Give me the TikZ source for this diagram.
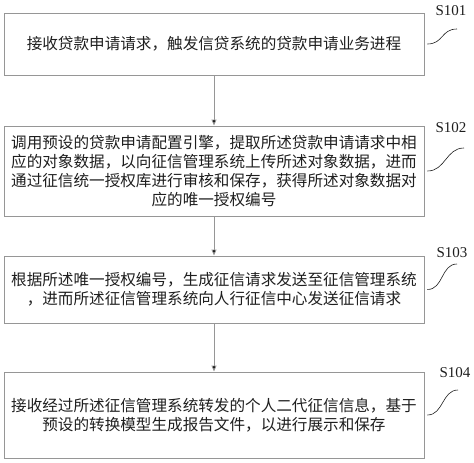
\documentclass[tikz,border=0pt]{standalone}
\usepackage{fontspec}
\setmainfont{Liberation Serif}
\newfontfamily\cjk{Noto Sans CJK SC}
\usetikzlibrary{arrows.meta}
\definecolor{boxLine}{RGB}{150,150,150}
\definecolor{textDark}{RGB}{30,30,30}
\tikzset{
  flow style/.style={
    x=1pt, y=-1pt,
  },
  step box/.style={
    draw=boxLine,
    line width=0.9pt,
    minimum width=420pt,
    minimum height=#1,
    inner sep=0pt,
    text width=412pt,
    align=center,
    text=textDark,
    font=\cjk\fontsize{15.6}{19}\selectfont,
  },
  step label/.style={
    text=textDark,
    inner sep=0pt,
    font=\fontsize{15}{17}\selectfont,
  },
  flow arrow/.style={
    draw=boxLine,
    line width=0.9pt,
    -{Triangle[length=6pt,width=5pt,fill=black]},
  },
  label wave/.style={
    draw=textDark,
    line width=0.6pt,
  },
}

\begin{document}
\begin{tikzpicture}[flow style]
  \useasboundingbox (0,0) rectangle (474,463);
  % steps
  \node[step box=62pt] (s1) at (214,44)
    {接收贷款申请请求，触发信贷系统的贷款申请业务进程};
  \node[step box=90pt] (s2) at (214,171)
    {调用预设的贷款申请配置引擎，提取所述贷款申请请求中相\\
     应的对象数据，以向征信管理系统上传所述对象数据，进而\\
     通过征信统一授权库进行审核和保存，获得所述对象数据对\\
     应的唯一授权编号};
  \node[step box=67pt] (s3) at (214,289.5)
    {根据所述唯一授权编号，生成征信请求发送至征信管理系统\\
     ，进而所述征信管理系统向人行征信中心发送征信请求};
  \node[step box=86pt] (s4) at (214,415)
    {接收经过所述征信管理系统转发的个人二代征信信息，基于\\
     预设的转换模型生成报告文件，以进行展示和保存};
  % labels
  \node[step label] (l1) at (451,11) {S101};
  \node[step label] (l2) at (451,128) {S102};
  \node[step label] (l3) at (452,253) {S103};
  \node[step label] (l4) at (455,373) {S104};
  \coordinate (w1) at (457,29);
  \coordinate (w2) at (464,148);
  \coordinate (w3) at (457,264);
  \coordinate (w4) at (458,390);
  % arrows
  \draw[flow arrow] (s1) -- (s2);
  \draw[flow arrow] (s2) -- (s3);
  \draw[flow arrow] (s3) -- (s4);
  % waves to the labels
  \draw[label wave] ([xshift=3pt]s1.east) .. controls +(16,0) and +(-16,0) .. (w1);
  \draw[label wave] ([xshift=3pt]s2.east) .. controls +(18,0) and +(-18,0) .. (w2);
  \draw[label wave] ([xshift=3pt]s3.east) .. controls +(16,0) and +(-16,0) .. (w3);
  \draw[label wave] ([xshift=3pt]s4.east) .. controls +(16,0) and +(-16,0) .. (w4);
\end{tikzpicture}
\end{document}
